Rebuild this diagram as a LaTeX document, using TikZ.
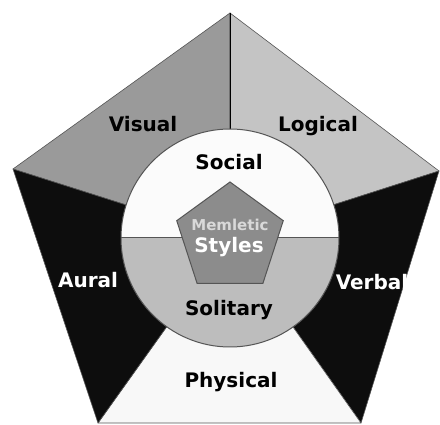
\documentclass[tikz,border=0pt]{standalone}
\usepackage{fontspec}
\setmainfont{DejaVu Sans}
\usetikzlibrary{shapes.geometric}
\definecolor{visualc}{HTML}{9A9A9A}
\definecolor{logicalc}{HTML}{C4C4C4}
\definecolor{darkc}{HTML}{0D0D0D}
\definecolor{physc}{HTML}{F8F8F8}
\definecolor{socialc}{HTML}{FBFBFB}
\definecolor{solc}{HTML}{BDBDBD}
\definecolor{corec}{HTML}{8C8C8C}
\definecolor{edgec}{HTML}{555555}
\tikzset{
  region/.style={draw=edgec, line width=0.6pt, line join=round},
  lbl/.style={font=\fontsize{20}{20}\selectfont\bfseries, anchor=base, inner sep=0pt},
  lblw/.style={lbl, text=white},
}
\begin{document}
\begin{tikzpicture}[x=1pt,y=-1pt]
\useasboundingbox (0,0) rectangle (440,425);
\fill[white] (0,0) rectangle (440,425);
\coordinate (C) at (230,238);
\coordinate (T) at (230,13);
\coordinate (L) at (13,169);
\coordinate (R) at (439,171);
\coordinate (BL) at (98,423);
\coordinate (BR) at (361,423);
% sectors
\filldraw[region, fill=visualc] (C) -- (T) -- (L) -- cycle;
\filldraw[region, fill=logicalc] (C) -- (T) -- (R) -- cycle;
\filldraw[region, fill=darkc] (C) -- (R) -- (BR) -- cycle;
\filldraw[region, fill=physc] (C) -- (BR) -- (BL) -- cycle;
\filldraw[region, fill=darkc] (C) -- (BL) -- (L) -- cycle;
\draw[line width=1pt, black] (T) -- (C);
% circle
\coordinate (CL) at (121,238);
\coordinate (CR) at (339,238);
\fill[socialc] (CL) arc[start angle=180, end angle=360, radius=109] -- cycle;
\fill[solc] (CL) arc[start angle=180, end angle=0, radius=109] -- cycle;
\draw[edgec, line width=1pt] (C) circle[radius=109];
\draw[edgec, line width=1pt] (CL) -- (CR);
% core pentagon
\node[regular polygon, regular polygon sides=5, minimum size=112pt, inner sep=0pt,
      fill=corec, draw=edgec, line width=1pt] (core) at (C) {};
% labels
\node[lbl] (visual) at (143,132) {Visual};
\node[lbl] (logical) at (318,132) {Logical};
\node[lbl] (social) at (229,170) {Social};
\node[lbl, font=\fontsize{15}{15}\selectfont\bfseries, text=white!85!black] (memletic) at (230,231) {Memletic};
\node[lblw] (styles) at (229,253) {Styles};
\node[lbl] (solitary) at (229,316) {Solitary};
\node[lblw] (aural) at (88,288) {Aural};
\node[lblw] (verbal) at (372,290) {Verbal};
\node[lbl] (physical) at (231,388) {Physical};
\end{tikzpicture}
\end{document}
